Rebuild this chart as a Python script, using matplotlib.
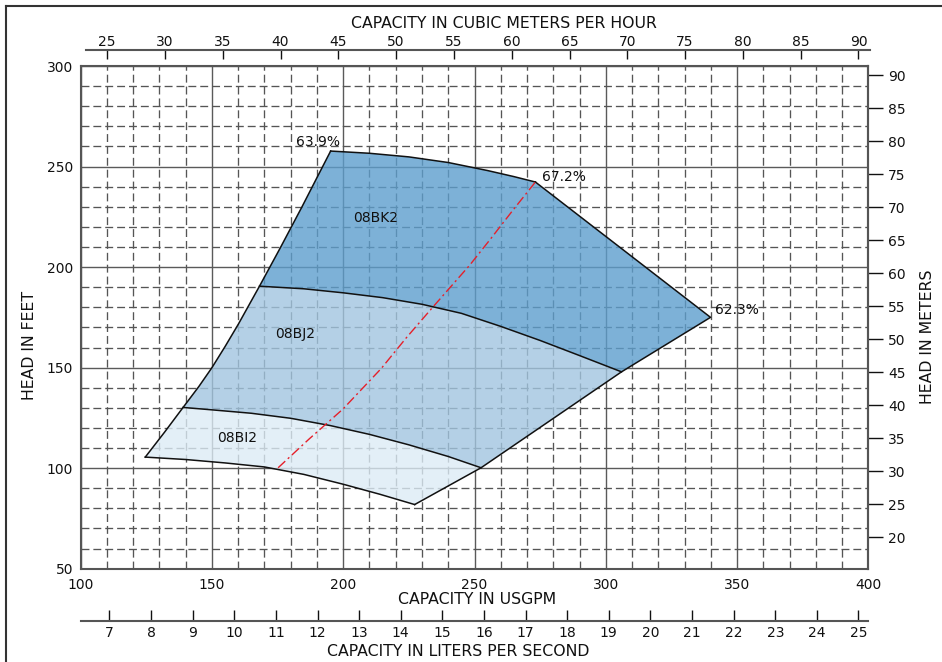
import matplotlib
matplotlib.use("Agg")
import matplotlib.pyplot as plt
from matplotlib.patches import Polygon
from matplotlib.lines import Line2D

plt.rcParams['font.family'] = ['DejaVu Sans']

# ---------------- data (USGPM, feet) ----------------
left_edge_gpm = [124.6, 132.0, 139.0, 145.0, 150.0, 155.0, 160.0, 168.1, 176.0, 184.3, 190.0, 195.2]
left_edge_ft = [105.5, 118.0, 130.2, 140.6, 150.0, 160.5, 171.5, 190.5, 209.5, 230.0, 244.5, 257.7]

bk2_top_gpm = [195.2, 210.0, 225.0, 240.0, 255.0, 265.0, 273.2]
bk2_top_ft = [257.7, 256.6, 254.8, 252.0, 248.0, 245.0, 242.3]

right_edge_gpm = [273.2, 339.9, 306.0, 252.5, 227.2]
right_edge_ft = [242.3, 175.0, 147.9, 100.2, 81.9]

bk2_bj2_gpm = [168.1, 185.0, 200.0, 215.0, 230.0, 245.0, 260.0, 275.0, 290.0, 306.0]
bk2_bj2_ft = [190.5, 189.2, 187.2, 184.8, 181.5, 177.0, 170.5, 163.5, 156.0, 147.9]

bj2_bi2_gpm = [139.0, 150.0, 165.0, 180.0, 195.0, 210.0, 225.0, 240.0, 252.5]
bj2_bi2_ft = [130.2, 129.0, 127.3, 124.8, 121.2, 116.8, 111.6, 105.8, 100.2]

bi2_bottom_gpm = [124.6, 140.0, 155.0, 170.0, 185.0, 200.0, 214.0, 227.2]
bi2_bottom_ft = [105.5, 104.3, 102.6, 100.6, 96.9, 92.0, 87.0, 81.9]

eff_gpm = [175.2, 187.0, 199.9, 214.5, 224.0, 234.2, 248.2, 256.0, 264.7, 273.2]
eff_ft = [100.2, 114.5, 129.4, 149.6, 164.8, 180.2, 201.0, 213.8, 228.4, 242.3]

model_names = ["08BK2", "08BJ2", "08BI2"]
model_label_gpm = [212.3, 181.5, 159.7]
model_label_ft = [224.2, 166.7, 115.1]
model_colors = ["#5d9ecd", "#a2c5e0", "#dcebf5"]

eff_labels = ["63.9%", "67.2%", "62.3%"]
eff_label_gpm = [190.3, 275.9, 341.6]
eff_label_ft = [262.3, 244.9, 178.6]
eff_label_ha = ["center", "left", "left"]

x_major = [100, 150, 200, 250, 300, 350, 400]
x_minor = list(range(100, 401, 10))
y_major = [50, 100, 150, 200, 250, 300]
y_minor = list(range(50, 301, 10))
m3h_ticks = list(range(25, 91, 5))
lps_ticks = list(range(7, 26))
m_ticks = list(range(20, 91, 5))

GPM_TO_M3H = 0.2271247
GPM_TO_LPS = 0.0630902
FT_TO_M = 0.3048

# ---------------- figure ----------------
W, H = 942, 662
fig = plt.figure(figsize=(W / 100, H / 100), dpi=100)
L, R, T, B = 80.7, 868.3, 66.0, 568.7
ax = fig.add_axes([L / W, 1 - B / H, (R - L) / W, (B - T) / H])
ax.set_xlim(100, 400)
ax.set_ylim(50, 300)

ax.set_xticks(x_major)
ax.set_xticks(x_minor, minor=True)
ax.set_yticks(y_major)
ax.set_yticks(y_minor, minor=True)
ax.set_axisbelow(True)
ax.grid(which='major', color='#5a5a5a', lw=1.0, ls='-')
ax.grid(which='minor', color='#555555', lw=0.95, ls=(0, (6, 3)))
ax.tick_params(axis='both', which='both', length=0, labelsize=10, colors='#111')
ax.tick_params(axis='x', pad=7)
ax.tick_params(axis='y', pad=5.5)
for s in ax.spines.values():
    s.set_color('#555')
    s.set_linewidth(1.5)


def pts(xs, ys):
    return list(zip(xs, ys))


n_l = len(left_edge_gpm)
i_bi = left_edge_gpm.index(139.0)
i_bk = left_edge_gpm.index(168.1)

bi2_poly = (pts(left_edge_gpm[0:i_bi + 1], left_edge_ft[0:i_bi + 1])
            + pts(bj2_bi2_gpm[1:], bj2_bi2_ft[1:])
            + pts(right_edge_gpm[4:], right_edge_ft[4:])
            + pts(bi2_bottom_gpm[::-1][1:], bi2_bottom_ft[::-1][1:]))
bj2_poly = (pts(left_edge_gpm[i_bi:i_bk + 1], left_edge_ft[i_bi:i_bk + 1])
            + pts(bk2_bj2_gpm[1:], bk2_bj2_ft[1:])
            + pts(right_edge_gpm[3:4], right_edge_ft[3:4])
            + pts(bj2_bi2_gpm[::-1][1:], bj2_bi2_ft[::-1][1:]))
bk2_poly = (pts(left_edge_gpm[i_bk:], left_edge_ft[i_bk:])
            + pts(bk2_top_gpm[1:], bk2_top_ft[1:])
            + pts(right_edge_gpm[1:3], right_edge_ft[1:3])
            + pts(bk2_bj2_gpm[::-1][1:], bk2_bj2_ft[::-1][1:]))

for poly, col in zip([bk2_poly, bj2_poly, bi2_poly], model_colors):
    ax.add_patch(Polygon(poly, closed=True, facecolor=col, edgecolor='none',
                         alpha=0.8, zorder=1))

lk = dict(color='#111', lw=1.1, zorder=3, solid_joinstyle='round')
ax.plot(left_edge_gpm, left_edge_ft, **lk)
ax.plot(bk2_top_gpm, bk2_top_ft, **lk)
ax.plot(right_edge_gpm, right_edge_ft, **lk)
ax.plot(bk2_bj2_gpm, bk2_bj2_ft, **lk)
ax.plot(bj2_bi2_gpm, bj2_bi2_ft, **lk)
ax.plot(bi2_bottom_gpm, bi2_bottom_ft, **lk)

ax.plot(eff_gpm, eff_ft, color='#e5202a', lw=1.0, ls=(0, (7, 2.5, 1.5, 2.5)), zorder=4)

for name, gx, fy in zip(model_names, model_label_gpm, model_label_ft):
    ax.text(gx, fy, name, ha='center', va='center', fontsize=10, color='#111', zorder=5)
for lab, gx, fy, ha in zip(eff_labels, eff_label_gpm, eff_label_ft, eff_label_ha):
    ax.text(gx, fy, lab, ha=ha, va='center', fontsize=10, color='#111', zorder=5)

# secondary axes
top = ax.secondary_xaxis(1 + 16 / (B - T),
                         functions=(lambda x: x * GPM_TO_M3H, lambda x: x / GPM_TO_M3H))
top.set_xticks(m3h_ticks)
top.tick_params(direction='in', length=6.5, width=1.0, pad=0.5, labelsize=10, colors='#111')
top.spines['top'].set_color('#555')
top.spines['top'].set_linewidth(1.5)
top.spines['top'].set_bounds(102.0 * GPM_TO_M3H, 400.6 * GPM_TO_M3H)

bot = ax.secondary_xaxis(-52 / (B - T),
                         functions=(lambda x: x * GPM_TO_LPS, lambda x: x / GPM_TO_LPS))
bot.set_xticks(lps_ticks)
bot.tick_params(direction='in', length=8, width=1.0, pad=4, labelsize=10, colors='#111')
bot.spines['bottom'].set_color('#555')
bot.spines['bottom'].set_linewidth(1.5)

rgt = ax.secondary_yaxis('right',
                         functions=(lambda y: y * FT_TO_M, lambda y: y / FT_TO_M))
rgt.set_yticks(m_ticks)
rgt.tick_params(direction='out', length=10.8, width=1.0, pad=3.5, labelsize=10, colors='#111')
rgt.spines['right'].set_color('#555')
rgt.spines['right'].set_linewidth(1.5)

# axis titles
tk = dict(fontsize=11.3, color='#111', ha='center', va='center')
fig.text(503.5 / W, 1 - 24 / H, "CAPACITY IN CUBIC METERS PER HOUR", **tk)
fig.text(477 / W, 1 - 600 / H, "CAPACITY IN USGPM", **tk)
fig.text(458.5 / W, 1 - 651 / H, "CAPACITY IN LITERS PER SECOND", **tk)
fig.text(30 / W, 1 - 345 / H, "HEAD IN FEET", rotation=90, **tk)
fig.text(928 / W, 1 - 337 / H, "HEAD IN METERS", rotation=90, **tk)

# page border (top and left)
fig.add_artist(Line2D([6 / W, 1], [1 - 6 / H, 1 - 6 / H], transform=fig.transFigure,
                      color='#333', lw=1.5))
fig.add_artist(Line2D([6 / W, 6 / W], [0, 1 - 6 / H], transform=fig.transFigure,
                      color='#333', lw=1.5))

fig.savefig("out.png", dpi=100)
